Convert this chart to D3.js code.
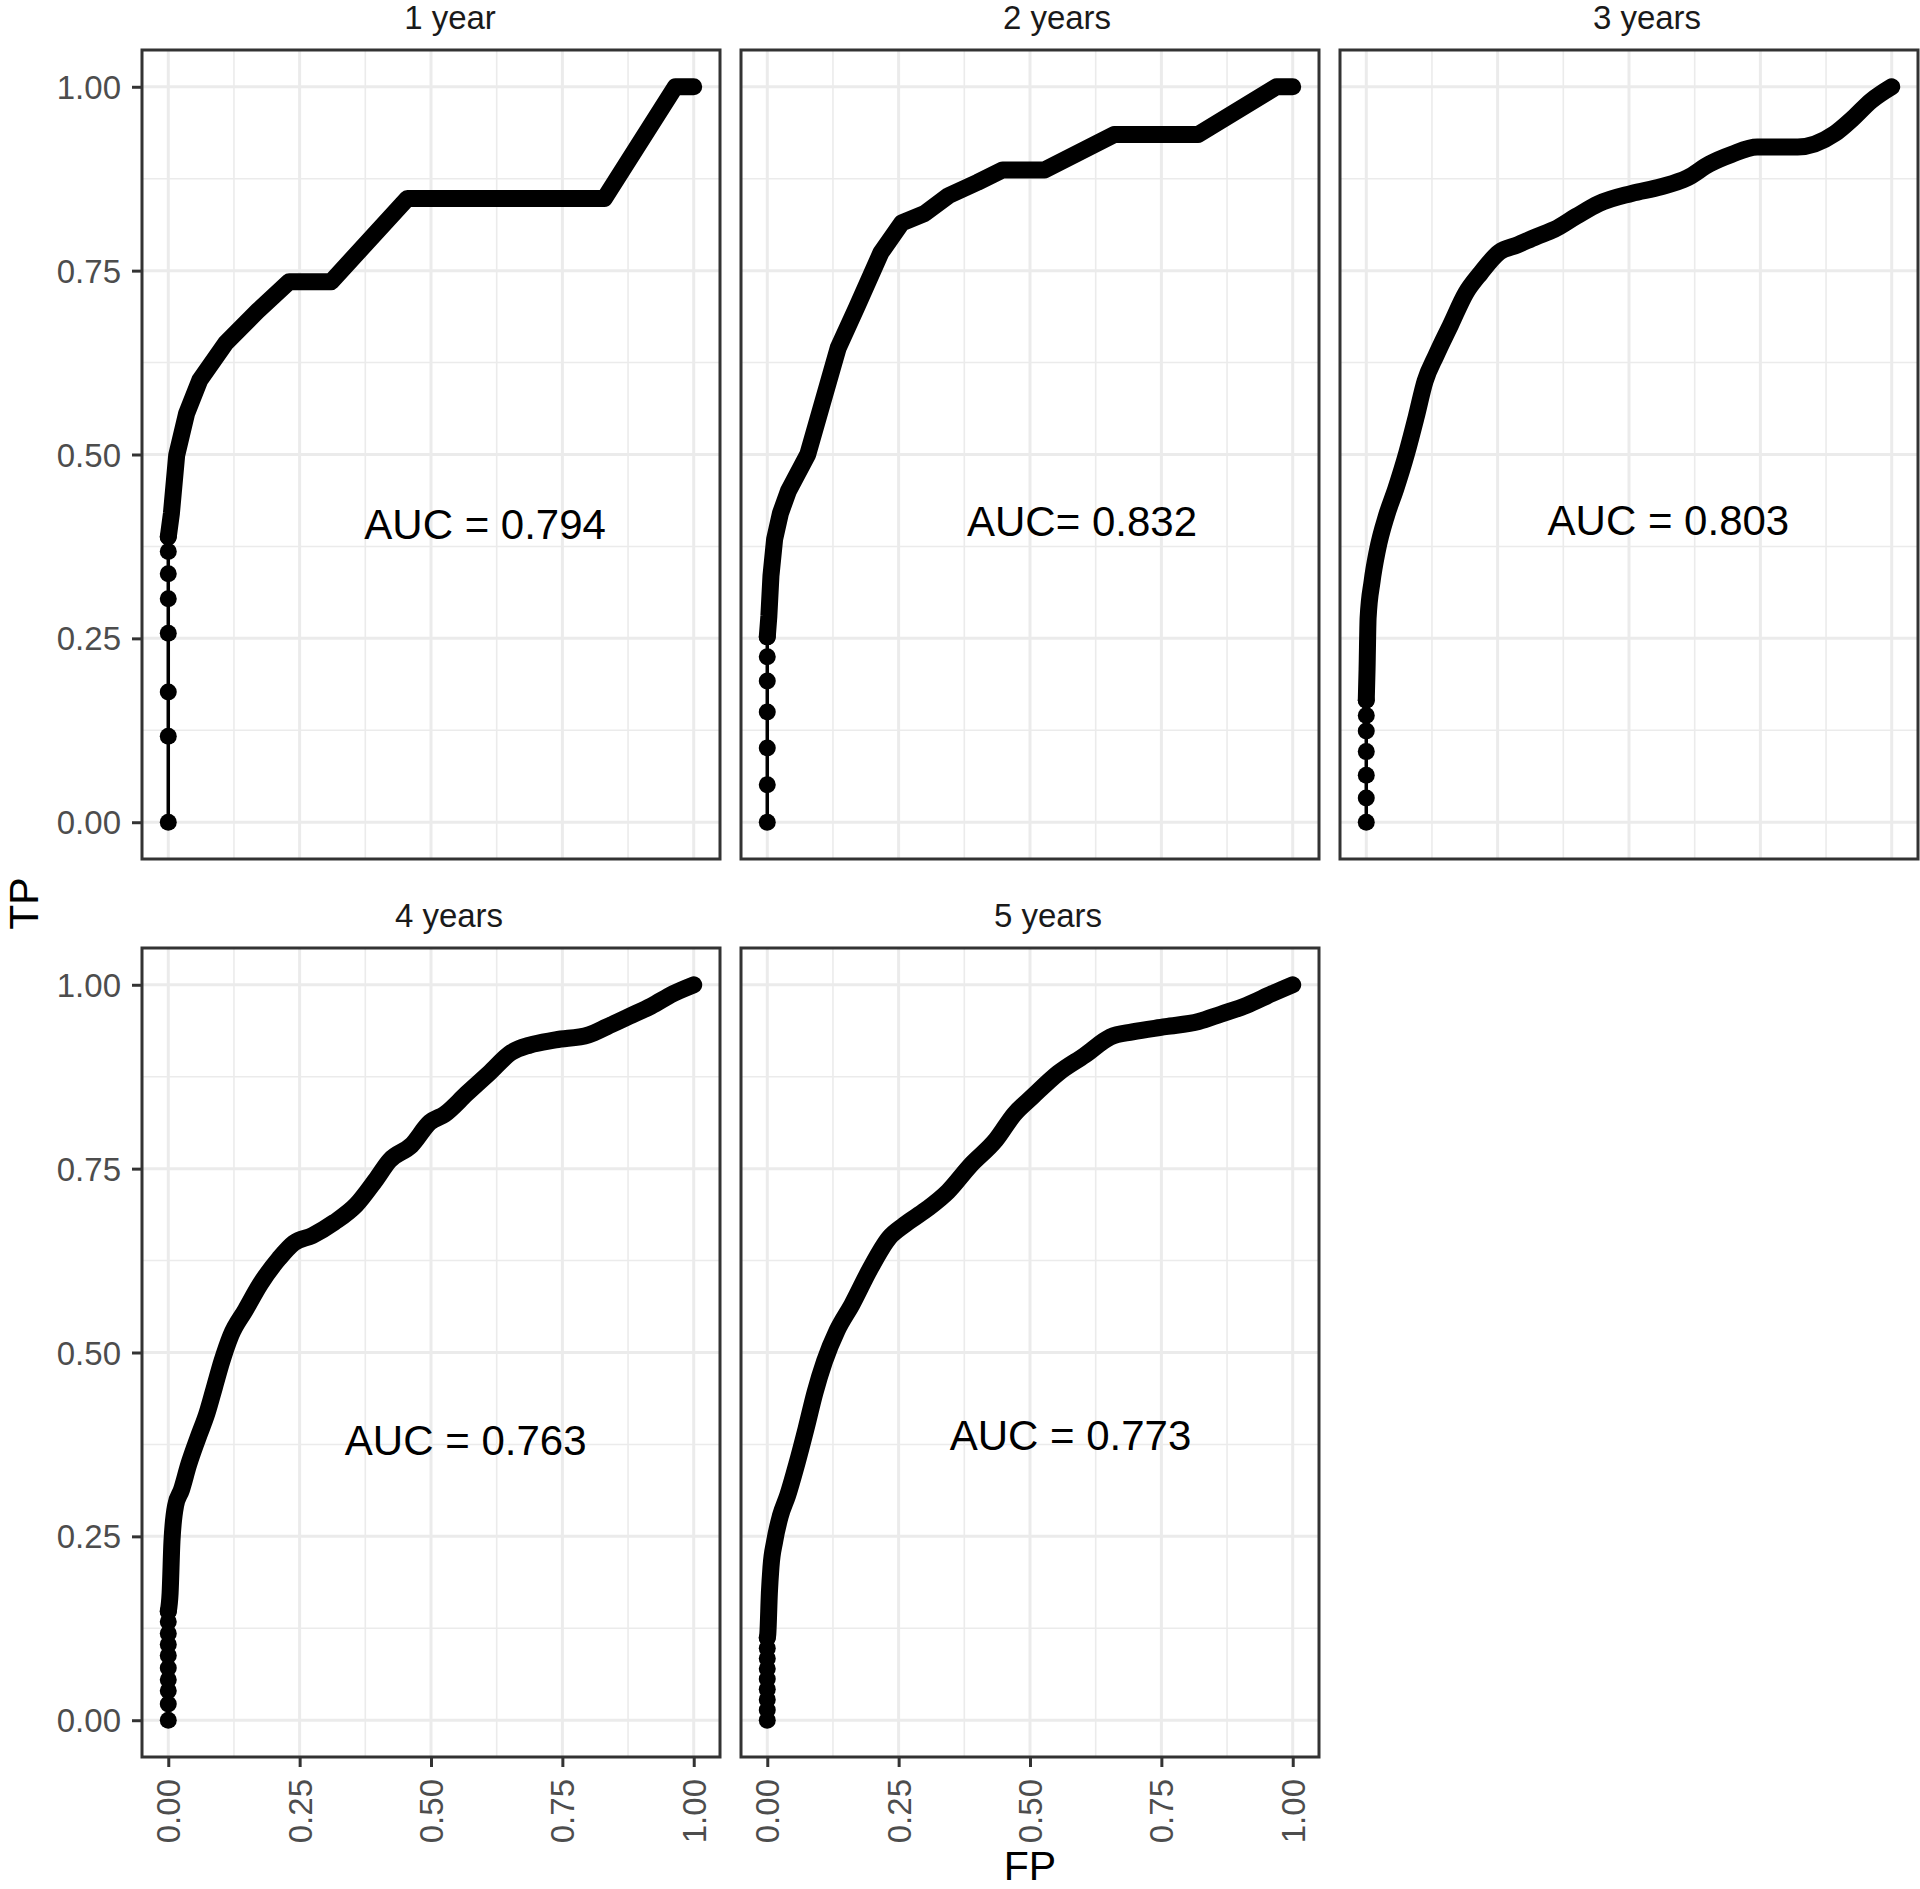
<!DOCTYPE html>
<html>
<head>
<meta charset="utf-8">
<script src="https://cdn.jsdelivr.net/npm/d3@7/dist/d3.min.js"></script>
<style>
  html, body { margin: 0; padding: 0; background: #ffffff; }
  svg { display: block; font-family: "Liberation Sans", Arial, sans-serif; }
</style>
</head>
<body>
<svg id="chart" width="1920" height="1889"></svg>
<script>
// ---------------- data ----------------
const panelTitles = ["1 year", "2 years", "3 years", "4 years", "5 years"];
const aucLabels = ["AUC = 0.794", "AUC= 0.832", "AUC = 0.803", "AUC = 0.763", "AUC = 0.773"];
const aucX = [0.603, 0.599, 0.575, 0.566, 0.577];
const aucY = [0.405, 0.409, 0.411, 0.381, 0.388];
const tickValues = [0, 0.25, 0.5, 0.75, 1];
const minorValues = [0.125, 0.375, 0.625, 0.875];

// individually visible points at the start of each ROC curve (FP, TP)
const sparse1 = [[0,0],[0,0.117],[0,0.177],[0,0.257],[0,0.304],[0,0.338],[0,0.368],[0,0.388]];
const sparse2 = [[0,0],[0,0.051],[0,0.101],[0,0.150],[0,0.192],[0,0.225],[0,0.252]];
const sparse3 = [[0,0],[0,0.033],[0,0.064],[0,0.096],[0,0.124],[0,0.145],[0,0.166]];
const sparse4 = [[0,0],[0,0.022],[0,0.040],[0,0.055],[0,0.071],[0,0.088],[0,0.103],[0,0.118],[0,0.134],[0,0.148]];
const sparse5 = [[0,0],[0,0.014],[0,0.028],[0,0.042],[0,0.056],[0,0.070],[0,0.084],[0,0.098],[0,0.112]];

// densely sampled part of each ROC curve (FP, TP)
const curve1 = [[0,0.388],[0.006,0.42],[0.016,0.499],[0.035,0.556],[0.06,0.601],[0.11,0.652],
  [0.17,0.695],[0.23,0.735],[0.31,0.735],[0.455,0.848],[0.83,0.848],
  [0.965,1.0],[1.0,1.0]];
const curve2 = [[0,0.252],[0.003,0.28],[0.007,0.335],[0.014,0.385],[0.025,0.42],[0.04,0.45],[0.077,0.50],
  [0.105,0.57],[0.135,0.645],[0.17,0.70],[0.216,0.774],[0.256,0.815],[0.30,0.828],[0.345,0.852],
  [0.40,0.870],[0.448,0.887],[0.528,0.887],[0.66,0.935],[0.82,0.935],[0.969,1.0],[1.0,1.0]];
const curve3 = [[0,0.166],[0.0015,0.208],[0.0035,0.278],[0.011,0.327],[0.021,0.369],[0.039,0.418],
  [0.056,0.453],[0.077,0.502],[0.095,0.551],[0.112,0.600],[0.133,0.635],[0.161,0.677],[0.189,0.719],
  [0.218,0.747],[0.253,0.775],[0.288,0.785],[0.323,0.796],[0.358,0.806],[0.400,0.824],[0.442,0.841],
  [0.505,0.855],[0.561,0.864],[0.611,0.876],[0.653,0.895],[0.695,0.908],[0.744,0.918],[0.821,0.918],
  [0.891,0.936],[0.926,0.957],[0.961,0.981],[1.0,1.0]];
const curve4 = [[0,0.148],[0.0035,0.173],[0.007,0.243],[0.014,0.292],[0.025,0.313],[0.039,0.348],
  [0.056,0.383],[0.074,0.418],[0.088,0.453],[0.102,0.488],[0.119,0.523],[0.147,0.558],[0.175,0.593],
  [0.211,0.628],[0.239,0.649],[0.274,0.659],[0.316,0.677],[0.358,0.701],[0.393,0.733],[0.421,0.761],
  [0.463,0.782],[0.498,0.813],[0.526,0.824],[0.568,0.852],[0.611,0.880],[0.653,0.908],[0.688,0.918],
  [0.737,0.925],[0.800,0.932],[0.835,0.943],[0.877,0.957],[0.919,0.971],[0.961,0.988],[1.0,1.0]];
const curve5 = [[0,0.112],[0.001,0.117],[0.004,0.173],[0.007,0.208],[0.014,0.243],[0.025,0.278],
  [0.039,0.306],[0.056,0.348],[0.074,0.397],[0.091,0.446],[0.109,0.488],[0.133,0.530],[0.161,0.565],
  [0.196,0.614],[0.232,0.656],[0.260,0.673],[0.302,0.694],[0.344,0.719],[0.386,0.754],[0.435,0.789],
  [0.470,0.824],[0.505,0.848],[0.554,0.880],[0.604,0.904],[0.653,0.929],[0.695,0.936],[0.758,0.943],
  [0.821,0.950],[0.863,0.960],[0.912,0.972],[0.961,0.988],[1.0,1.0]];

const sparseAll = [sparse1, sparse2, sparse3, sparse4, sparse5];
const curveAll = [curve1, curve2, curve3, curve4, curve5];

// ---------------- layout ----------------
const W = 578, H = 809;
const colLeft = [142, 741, 1340];
const rowTop = [50, 948];
const stripCenter = [450, 1057, 1647, 449, 1048];   // strip label centres (page x)
const fontTick = 33, fontTitle = 41, fontAuc = 42;

const svg = d3.select("#chart");
svg.append("rect").attr("width", 1920).attr("height", 1889).attr("fill", "#ffffff");

panelTitles.forEach((title, i) => {
  const col = i % 3, row = Math.floor(i / 3);
  const g = svg.append("g").attr("transform", `translate(${colLeft[col]},${rowTop[row]})`);
  const x = d3.scaleLinear().domain([-0.05, 1.05]).range([0, W]);
  const y = d3.scaleLinear().domain([-0.05, 1.05]).range([H, 0]);

  g.append("rect").attr("width", W).attr("height", H).attr("fill", "#ffffff");

  const grid = g.append("g");
  minorValues.forEach(v => {
    grid.append("line").attr("x1", x(v)).attr("x2", x(v)).attr("y1", 0).attr("y2", H)
      .attr("stroke", "#EBEBEB").attr("stroke-width", 1.6);
    grid.append("line").attr("y1", y(v)).attr("y2", y(v)).attr("x1", 0).attr("x2", W)
      .attr("stroke", "#EBEBEB").attr("stroke-width", 1.6);
  });
  tickValues.forEach(v => {
    grid.append("line").attr("x1", x(v)).attr("x2", x(v)).attr("y1", 0).attr("y2", H)
      .attr("stroke", "#EBEBEB").attr("stroke-width", 3);
    grid.append("line").attr("y1", y(v)).attr("y2", y(v)).attr("x1", 0).attr("x2", W)
      .attr("stroke", "#EBEBEB").attr("stroke-width", 3);
  });

  const sp = sparseAll[i], cv = curveAll[i];
  const line = d3.line().x(d => x(d[0])).y(d => y(d[1]));
  const smooth = d3.line().x(d => x(d[0])).y(d => y(d[1]))
    .curve(i < 2 ? d3.curveLinear : d3.curveMonotoneX);

  // thin connecting line (geom_line)
  g.append("path").attr("d", line(sp.concat(cv.slice(0, 2)))).attr("fill", "none")
    .attr("stroke", "#000").attr("stroke-width", 3.5).attr("stroke-linejoin", "round");
  // densely packed points -> thick band
  g.append("path").attr("d", smooth(cv)).attr("fill", "none")
    .attr("stroke", "#000").attr("stroke-width", 17)
    .attr("stroke-linejoin", "round").attr("stroke-linecap", "round");
  // individual points
  g.selectAll("circle.pt").data(sp).enter().append("circle").attr("class", "pt")
    .attr("cx", d => x(d[0])).attr("cy", d => y(d[1])).attr("r", 8.5).attr("fill", "#000");

  // AUC annotation
  g.append("text").attr("x", x(aucX[i])).attr("y", y(aucY[i]) + 0.358 * fontAuc)
    .attr("text-anchor", "middle").attr("font-size", fontAuc).attr("fill", "#000")
    .text(aucLabels[i]);

  // border
  g.append("rect").attr("width", W).attr("height", H).attr("fill", "none")
    .attr("stroke", "#333333").attr("stroke-width", 3);

  // strip title
  g.append("text").attr("x", stripCenter[i] - colLeft[col]).attr("y", -21).attr("text-anchor", "middle")
    .attr("font-size", fontTick).attr("fill", "#1A1A1A").text(title);

  if (col === 0) {
    const ay = g.append("g").call(d3.axisLeft(y).tickValues(tickValues)
      .tickFormat(d3.format(".2f")).tickSize(10).tickPadding(11));
    ay.select(".domain").remove();
    ay.selectAll("line").attr("stroke", "#333333").attr("stroke-width", 3);
    ay.selectAll("text").attr("font-size", fontTick).attr("fill", "#4D4D4D")
      .attr("font-family", "Liberation Sans, Arial, sans-serif").attr("dy", "0.35em");
  }
  if (row === 1) {
    const ax = g.append("g").attr("transform", `translate(0,${H})`)
      .call(d3.axisBottom(x).tickValues(tickValues).tickFormat(d3.format(".2f")).tickSize(10));
    ax.select(".domain").remove();
    ax.selectAll("line").attr("stroke", "#333333").attr("stroke-width", 3);
    ax.selectAll("text").attr("font-size", fontTick).attr("fill", "#4D4D4D")
      .attr("font-family", "Liberation Sans, Arial, sans-serif")
      .attr("transform", "rotate(-90)").attr("x", -22).attr("y", 0).attr("dy", "0.35em")
      .style("text-anchor", "end");
  }
});

// axis titles
svg.append("text").attr("x", 1030).attr("y", 1880).attr("text-anchor", "middle")
  .attr("font-size", fontTitle).attr("fill", "#000").text("FP");
svg.append("text").attr("transform", "translate(38,903.5) rotate(-90)")
  .attr("text-anchor", "middle").attr("font-size", fontTitle).attr("fill", "#000").text("TP");
</script>
</body>
</html>
